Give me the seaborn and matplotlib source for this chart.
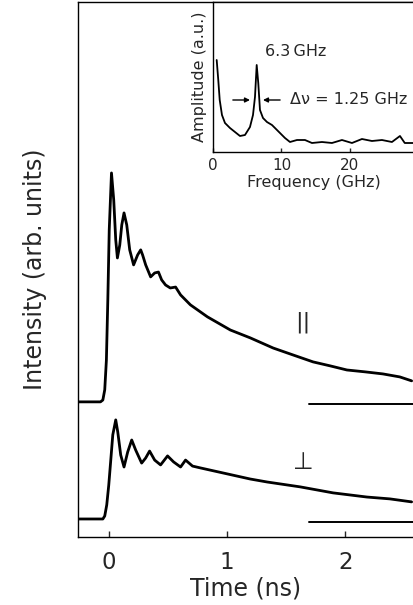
import numpy as np
import pandas as pd
import matplotlib
matplotlib.use("Agg")
import matplotlib.pyplot as plt
import seaborn as sns

# ---------------- data ----------------
time_par = [-0.26, -0.07, -0.05, -0.034, -0.02, -0.008, 0.004, 0.023, 0.042, 0.059,
            0.073, 0.093, 0.11, 0.129, 0.152, 0.177, 0.21, 0.244, 0.27, 0.286,
            0.312, 0.354, 0.388, 0.42, 0.447, 0.48, 0.52, 0.565, 0.607, 0.69,
            0.834, 1.028, 1.196, 1.39, 1.558, 1.727, 1.87, 2.013, 2.165, 2.317,
            2.46, 2.56]
int_par = [0.009, 0.009, 0.017, 0.061, 0.190, 0.450, 0.753, 1.000, 0.883, 0.710,
           0.632, 0.688, 0.775, 0.827, 0.775, 0.667, 0.602, 0.645, 0.667, 0.645,
           0.602, 0.550, 0.567, 0.571, 0.537, 0.515, 0.502, 0.506, 0.472, 0.429,
           0.377, 0.320, 0.286, 0.242, 0.212, 0.182, 0.165, 0.147, 0.139, 0.130,
           0.117, 0.100]

time_perp = [-0.26, -0.05, -0.034, -0.017, 0.0, 0.017, 0.034, 0.059, 0.076, 0.101,
             0.129, 0.16, 0.194, 0.227, 0.278, 0.312, 0.345, 0.388, 0.438, 0.497,
             0.548, 0.607, 0.649, 0.708, 0.775, 1.003, 1.196, 1.34, 1.618, 1.896,
             2.182, 2.376, 2.56]
int_perp = [0.013, 0.013, 0.026, 0.074, 0.160, 0.268, 0.377, 0.442, 0.390, 0.290,
            0.238, 0.303, 0.355, 0.312, 0.255, 0.277, 0.307, 0.268, 0.247, 0.286,
            0.260, 0.238, 0.268, 0.242, 0.234, 0.208, 0.186, 0.173, 0.152, 0.126,
            0.108, 0.100, 0.087]

freq = [0.54, 0.77, 0.98, 1.31, 1.75, 2.48, 3.21, 3.94, 4.67, 5.40,
        5.84, 6.13, 6.38, 6.61, 6.86, 7.30, 7.88, 8.61, 9.05, 9.78,
        10.51, 11.24, 12.26, 12.99, 13.43, 14.45, 15.91, 17.37, 18.83, 20.29,
        21.75, 23.21, 24.67, 26.13, 27.3, 28.0, 29.3]
amp = [92, 72, 52, 37, 29, 24, 20, 16, 17, 25,
       37, 55, 87, 69, 42, 34, 30, 27, 24, 19,
       14, 10, 12, 12, 12, 9, 10, 9, 12, 9,
       13, 11, 12, 10, 16, 9, 9]

time_ticks = [0, 1, 2]
freq_ticks = [0, 10, 20]
zero_line_start = 1.69   # ns, start of the zero-level reference lines

# ---------------- layout ----------------
OFFSET_PAR = 0.511
OFFSET_PERP = 0.0

sns.set_style("ticks")
plt.rcParams['font.family'] = ['DejaVu Sans']
plt.rcParams['xtick.direction'] = 'in'
plt.rcParams['ytick.direction'] = 'in'

fig = plt.figure(figsize=(4.14, 6.05), dpi=100)
ax = fig.add_axes([78/414, 68/605, 336/414, 535/605])

df_par = pd.DataFrame({"t": time_par, "I": np.array(int_par) + OFFSET_PAR})
df_perp = pd.DataFrame({"t": time_perp, "I": np.array(int_perp) + OFFSET_PERP})

sns.lineplot(data=df_par, x="t", y="I", ax=ax, color="black", lw=2.0,
             sort=False, estimator=None)
sns.lineplot(data=df_perp, x="t", y="I", ax=ax, color="black", lw=2.0,
             sort=False, estimator=None)

xmax = 2.58
ax.plot([zero_line_start, xmax], [OFFSET_PAR, OFFSET_PAR], color="black", lw=1.4)
ax.plot([zero_line_start, xmax], [OFFSET_PERP, OFFSET_PERP], color="black", lw=1.4)

ax.text(1.643, 0.866, "||", fontsize=16, ha="center", va="center")
ax.text(1.643, 0.26, "\u22a5", fontsize=17, ha="center", va="center")

ax.set_xlim(-0.26, xmax)
ax.set_ylim(-0.065, 2.251)
ax.set_xticks(time_ticks)
ax.set_xticklabels([str(v) for v in time_ticks])
ax.set_yticks([])
ax.tick_params(axis="x", length=4, width=1, labelsize=16.5, pad=10)
ax.set_xlabel("Time (ns)", fontsize=17, labelpad=2)
ax.set_ylabel("Intensity (arb. units)", fontsize=17, labelpad=22)
for s in ["left", "bottom", "top"]:
    ax.spines[s].set_linewidth(1.0)
    ax.spines[s].set_color("black")
ax.spines["right"].set_visible(False)

# ---------------- inset ----------------
ins = fig.add_axes([213/414, 453/605, 201/414, 150/605])
ins.set_facecolor("white")
df_fft = pd.DataFrame({"f": freq, "A": amp})
sns.lineplot(data=df_fft, x="f", y="A", ax=ins, color="black", lw=1.3,
             sort=False, estimator=None)
ins.set_xlim(0, 29.35)
ins.set_ylim(0, 150)
ins.set_xticks(freq_ticks)
ins.set_xticklabels([str(v) for v in freq_ticks])
ins.set_yticks([])
ins.tick_params(axis="x", length=3, width=1, labelsize=11, pad=4)
ins.set_xlabel("Frequency (GHz)", fontsize=11.5, labelpad=2)
ins.set_ylabel("Amplitude (a.u.)", fontsize=11.5, labelpad=4)
ins.spines["right"].set_visible(False)
for s in ["left", "bottom", "top"]:
    ins.spines[s].set_linewidth(1.0)
    ins.spines[s].set_color("black")

ins.text(12.1, 100, "6.3\u2009GHz", fontsize=11.5, ha="center", va="center",
         family=["DejaVu Sans"])
ins.text(11.2, 52, "\u0394\u03bd = 1.25 GHz", fontsize=11.5, ha="left", va="center")
ins.annotate("", xy=(5.4, 52), xytext=(2.9, 52),
             arrowprops=dict(arrowstyle="-|>", color="black", lw=1.0,
                             mutation_scale=7, shrinkA=0, shrinkB=0))
ins.annotate("", xy=(7.3, 52), xytext=(9.8, 52),
             arrowprops=dict(arrowstyle="-|>", color="black", lw=1.0,
                             mutation_scale=7, shrinkA=0, shrinkB=0))

fig.savefig("out.png", dpi=100)
